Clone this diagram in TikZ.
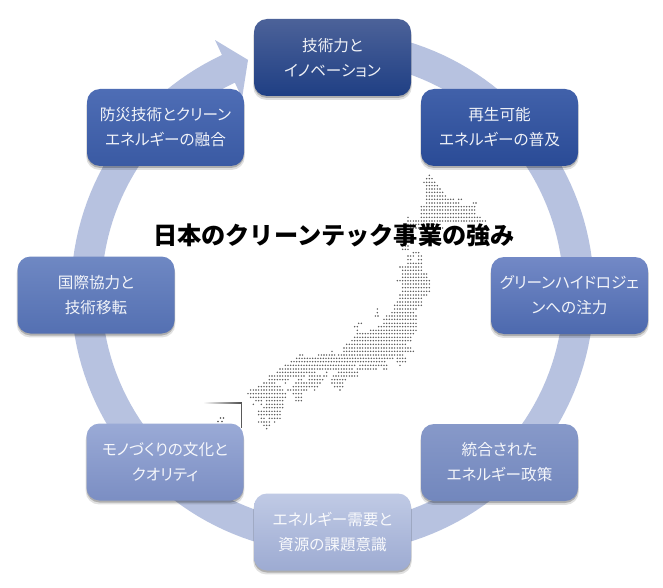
\documentclass[tikz,border=0pt]{standalone}
\usepackage{fontspec}
\setmainfont{Noto Sans CJK JP}
\newfontfamily\palfont[RawFeature=+palt]{Noto Sans CJK JP}
\usetikzlibrary{shadows,calc}
\definecolor{ringc}{HTML}{B7C2E0}
\definecolor{dotc}{HTML}{505050}
\definecolor{c1a}{HTML}{4C6299}\definecolor{c1b}{HTML}{2A4D93}\definecolor{c1c}{HTML}{1F3F84}
\definecolor{c2a}{HTML}{4161AA}\definecolor{c2b}{HTML}{2F55A8}\definecolor{c2c}{HTML}{2A4B96}
\definecolor{c3a}{HTML}{7389C6}\definecolor{c3b}{HTML}{5F7CC3}\definecolor{c3c}{HTML}{4C69AE}
\definecolor{c4a}{HTML}{8799C9}\definecolor{c4b}{HTML}{8598CD}\definecolor{c4c}{HTML}{7287BD}
\definecolor{c5a}{HTML}{C0CAE5}\definecolor{c5b}{HTML}{B4C0E0}\definecolor{c5c}{HTML}{9DABD2}
\definecolor{c6a}{HTML}{9AAAD6}\definecolor{c6b}{HTML}{8CA0D5}\definecolor{c6c}{HTML}{7B8EC3}
\definecolor{c7a}{HTML}{6F88C3}\definecolor{c7b}{HTML}{5F7DC6}\definecolor{c7c}{HTML}{5470B2}
\definecolor{c8a}{HTML}{4E6DB5}\definecolor{c8b}{HTML}{3F63B3}\definecolor{c8c}{HTML}{3A5AA3}
\tikzset{
  card/.style={rounded corners=13pt,minimum width=157pt,minimum height=77pt,inner sep=0pt,
    align=center,text=white,text opacity=.92,font=\palfont\fontsize{15.6}{25}\selectfont,
    top color=c#1a,middle color=c#1b,bottom color=c#1c,
    general shadow={fill=black,opacity=.12,shadow xshift=0pt,shadow yshift=-3.5pt,shadow scale=1.01},
    general shadow={fill=black,opacity=.22,shadow xshift=0pt,shadow yshift=-2pt}},
  mapdot/.style={fill=dotc}
}
\newcommand\maprow[2]{\foreach \a/\b in {#2}{\pgfmathtruncatemacro\n{(\b-\a)/8}\foreach \i in {0,...,\n}{\fill[mapdot] ({230+(\a+8*\i)/3},{160+#1/3}) circle (0.78);}}}
\begin{document}
\begin{tikzpicture}[x=1pt,y=-1pt]
\useasboundingbox (0,0) rectangle (663,588);
\fill[white] (0,0) rectangle (663,588);
% ring arrow
\fill[ringc] plot[domain=265:605,samples=160] ({332.5+261.5*cos(\x)},{292+261.5*sin(\x)})
  -- ({332.5+278*cos(605)},{292+278*sin(605)})
  -- ({332.5+247*cos(610)},{292+247*sin(610)})
  -- ({332.5+214*cos(605)},{292+214*sin(605)})
  -- plot[domain=605:265,samples=160] ({332.5+231*cos(\x)},{292+231*sin(\x)}) -- cycle;
% map
\maprow{46}{598/598}\maprow{56}{590/606}\maprow{67}{582/618}\maprow{77}{590/626}\maprow{87}{590/630}
\maprow{97}{590/638}\maprow{108}{590/646}\maprow{118}{590/670,686/694}\maprow{129}{590/690,730/742}
\maprow{140}{574/734}\maprow{150}{574/734}\maprow{161}{574/734}\maprow{172}{534/534,574/750}
\maprow{183}{534/766}\maprow{193}{534/630}\maprow{204}{542/640}
\maprow{258}{518/534}\maprow{268}{518/534}\maprow{278}{550/566}\maprow{288}{534/550,566/574}
\maprow{299}{534/542,566/574}\maprow{310}{534/574}\maprow{321}{510/574}\maprow{331}{518/574}
\maprow{342}{518/590}\maprow{352}{518/590}\maprow{362}{502/598}\maprow{372}{518/598}\maprow{383}{518/598}
\maprow{394}{518/598}\maprow{405}{510/590}\maprow{415}{510/574}\maprow{426}{502/574}\maprow{436}{494/574}
\maprow{447}{494/558,442/442}\maprow{458}{486/550,442/442}\maprow{468}{470/558,436/444}\maprow{478}{462/558}
\maprow{490}{462/558,386/394}\maprow{500}{446/558,374/386}\maprow{511}{422/558,382/382}\maprow{521}{390/550,382/382}
\maprow{532}{374/542}\maprow{542}{366/542}\maprow{553}{350/526}\maprow{564}{342/542}\maprow{574}{342/550,306/306}
\maprow{585}{266/318,326/518,210/218}\maprow{595}{200/494,502/526}\maprow{605}{184/470,502/526}
\maprow{616}{166/378,390/470,510/510}\maprow{627}{150/366,382/438,462/470}\maprow{637}{142/254,290/290,326/382}
\maprow{648}{118/222,238/270,282/294,310/382}\maprow{659}{118/174,206/214,238/278,306/350}
\maprow{669}{102/118,126/138,166/166,198/270,306/342}\maprow{680}{86/134,142/154,190/262,314/342}
\maprow{690}{62/158,174/230,254/254,330/330}\maprow{701}{54/166,190/214}\maprow{712}{62/170,198/214}
\maprow{722}{78/94,110/158,198/214}\maprow{733}{70/70,94/94,110/158}\maprow{743}{102/158}\maprow{754}{86/150}
\maprow{764}{86/150}\maprow{775}{94/102,118/150}\maprow{786}{86/110,118/118,134/134}\maprow{796}{102/118}\maprow{806}{110/110}
% okinawa
\fill[mapdot] (220.5,418) circle (0.78) (223.5,418) circle (0.78) (218,421.5) circle (0.78) (222,421.5) circle (0.78);
% inset frame
\shade[left color=white,right color=black!70] (203,402.6) rectangle (241.8,403.6);
\fill[black!65] (240.8,403) rectangle (241.8,428);
% title
\node[font=\fontsize{24.2}{28}\bfseries\selectfont,inner sep=0pt] (title) at (334,235) {日本のクリーンテック事業の強み};
% cards
\node[card=1] (n1) at (332.5,57.5) {技術力と\\イノベーション};
\node[card=2] (n2) at (499.5,127.5) {再生可能\\エネルギーの普及};
\node[card=3] (n3) at (569.5,295.5) {グリーンハイドロジェ\\ンへの注力};
\node[card=4] (n4) at (499.5,462.5) {統合された\\エネルギー政策};
\node[card=5] (n5) at (332.5,532) {エネルギー需要と\\資源の課題意識};
\node[card=6] (n6) at (165,462) {モノづくりの文化と\\クオリティ};
\node[card=7] (n7) at (96,295) {国際協力と\\技術移転};
\node[card=8] (n8) at (165.5,127.5) {防災技術とクリーン\\エネルギーの融合};
\end{tikzpicture}
\end{document}
